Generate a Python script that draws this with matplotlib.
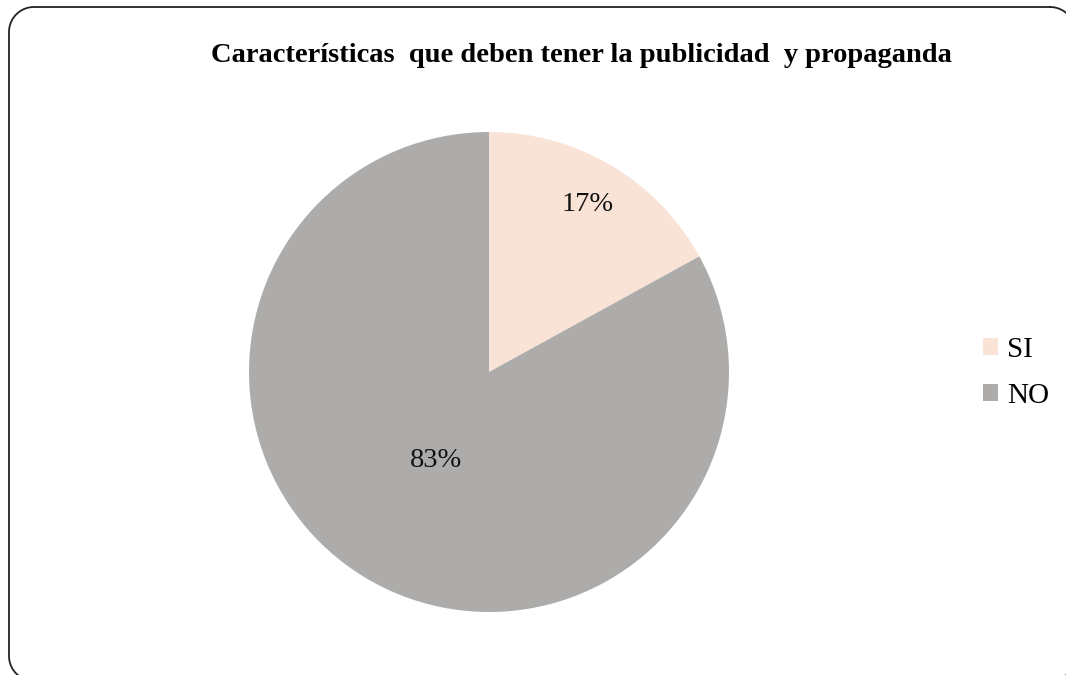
import numpy as np
import matplotlib.pyplot as plt
from matplotlib.lines import Line2D
from matplotlib.transforms import IdentityTransform

labels = ["SI", "NO"]
values = [17, 83]
colors = ["#F9E3D6", "#ADACAB"]
label_dist = [0.81, 0.43]

plt.rcParams["font.family"] = ["Liberation Serif", "DejaVu Serif"]

W, H = 1066, 675
fig = plt.figure(figsize=(W / 100, H / 100), dpi=100)


def rounded_frame(x0, y0, x1, y1, r, n=30):
    """Closed outline of a rounded rectangle in pixel coords (y downwards)."""
    corners = [(x1 - r, y0 + r, 270, 360), (x1 - r, y1 - r, 0, 90),
               (x0 + r, y1 - r, 90, 180), (x0 + r, y0 + r, 180, 270)]
    xs, ys = [], []
    for cx, cy, a0, a1 in corners:
        t = np.deg2rad(np.linspace(a0, a1, n))
        xs.extend(cx + r * np.cos(t))
        ys.extend(cy + r * np.sin(t))
    xs.append(xs[0])
    ys.append(ys[0])
    return np.array(xs), H - np.array(ys)


fx, fy = rounded_frame(9, 7, 1075, 681, 25)
fig.add_artist(Line2D(fx, fy, transform=IdentityTransform(),
                      color="#222222", lw=1.3))

ax = fig.add_axes([249 / W, 63 / H, 480 / W, 480 / H])
wedges, _ = ax.pie(values, colors=colors, startangle=90, counterclock=False,
                   radius=1, wedgeprops=dict(linewidth=0))
ax.set_xlim(-1, 1)
ax.set_ylim(-1, 1)
ax.set_aspect("equal")

for w, v, d in zip(wedges, values, label_dist):
    ang = np.deg2rad((w.theta1 + w.theta2) / 2)
    ax.text(d * np.cos(ang), d * np.sin(ang), f"{v}%", ha="center",
            va="center", fontsize=20.5, color="#111111")

fig.text(581 / W, 1 - 62 / H, "Características  que deben tener la publicidad  y propaganda",
         ha="center", va="baseline", fontsize=20.5, fontweight="bold")

leg = fig.legend(wedges, labels, loc="center left",
                 bbox_to_anchor=(983 / W, 1 - 373 / H), frameon=False,
                 fontsize=21, handlelength=0.52, handleheight=0.52,
                 handletextpad=0.31, labelspacing=0.69, borderpad=0,
                 borderaxespad=0)

fig.savefig("out.png", dpi=100)
